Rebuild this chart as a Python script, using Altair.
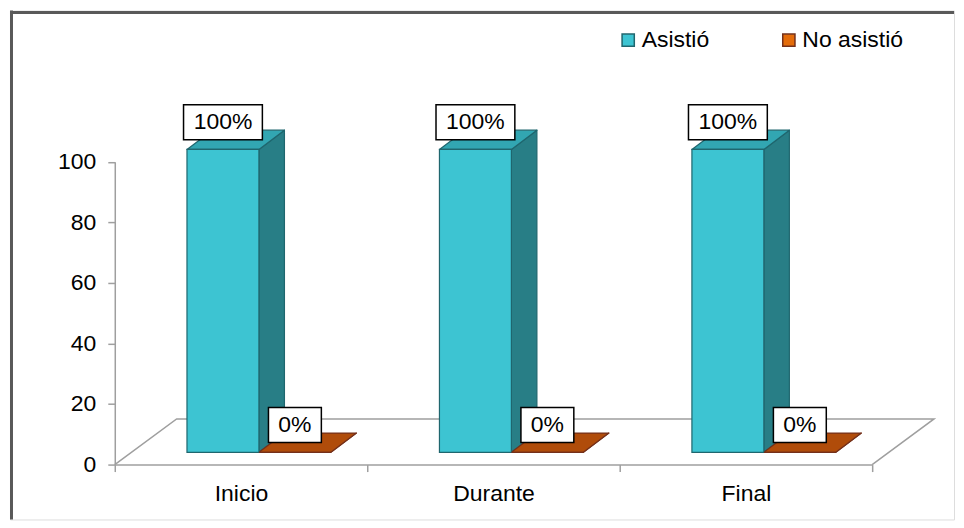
import json
import altair as alt
import pandas as pd

# ---- data ----
categories = ["Inicio", "Durante", "Final"]
series = ["Asistió", "No asistió"]
asistio = [100, 100, 100]
no_asistio = [0, 0, 0]
y_ticks = [0, 20, 40, 60, 80, 100]

# ---- styles ----
front_colors = ["#3DC4D2", "#E46C0A"]
edge_colors = ["#1F666E", "#74301A"]
side_colors = ["#287E86", "#8E3C08"]
top_colors = ["#32A6B2", "#B04C0A"]
FONT = "Liberation Sans"
GRAY = "#9F9F9F"

values = [asistio, no_asistio]
rows = []
for i, c in enumerate(categories):
    for j, s in enumerate(series):
        rows.append({"cat": c, "ci": i, "serie": s, "si": j, "v": values[j][i]})
df = pd.DataFrame(rows)

N = len(categories)
# 3D geometry (in data units)
START, BW = 0.22, 0.285      # bar start in category, bar width
FX, FY = 0.066, 4.05         # shift of bar front from floor front
BX, BY = 0.101, 6.36         # bar depth
DX, DY = 0.245, 15.06        # floor depth
LY, HH = 9.0, 5.77           # label offset, label half height

W, H = 946, 510
xs = alt.Scale(domain=[0, N], range=[105, 864], nice=False, zero=False)
ys = alt.Scale(domain=[0, 100], range=[455, 151.5], nice=False, zero=False)

xa = alt.Axis(
    values=[k / 2 for k in range(2 * N + 1)],
    labelExpr=f"datum.value % 1 ? {json.dumps(categories, ensure_ascii=False)}[floor(datum.value)] : ''",
    tickOpacity={"condition": {"test": "datum.value % 1 != 0", "value": 0}, "value": 1},
    offset=-(H - 455), domainColor=GRAY, domainWidth=1.5, tickColor=GRAY,
    tickWidth=1.5, tickSize=7, labelFontSize=23, labelFont=FONT, labelColor="black",
    labelPadding=11, grid=False, title=None, labelFlush=False, labelOverlap=False,
)
ya = alt.Axis(
    values=y_ticks, offset=-105, domainColor=GRAY, domainWidth=1.5, tickColor=GRAY,
    tickWidth=1.5, tickSize=7, labelFontSize=23, labelFont=FONT, labelColor="black",
    labelPadding=12, grid=False, title=None,
)

base = (
    alt.Chart(df)
    .transform_calculate(xl=f"datum.ci + {START} + datum.si * {BW} + {FX}")
    .transform_calculate(xr=f"datum.xl + {BW}")
    .transform_calculate(yb=f"{FY}")
    .transform_calculate(yt=f"{FY} + datum.v")
    .transform_calculate(key="datum.cat + '|' + datum.serie")
    .transform_calculate(sidecol=f"{json.dumps(side_colors)}[datum.si]")
    .transform_calculate(topcol=f"{json.dumps(top_colors)}[datum.si]")
    .transform_calculate(edgecol=f"{json.dumps(edge_colors)}[datum.si]")
)

# floor
floor_df = pd.DataFrame({
    "o": [0, 1, 2, 3],
    "fx": [0, DX, N + DX, N],
    "fy": [0, DY, DY, 0],
})
floor = alt.Chart(floor_df).mark_line(color=GRAY, strokeWidth=1.5).encode(
    x=alt.X("fx:Q", scale=xs, axis=xa, title=None),
    y=alt.Y("fy:Q", scale=ys, axis=ya, title=None),
    order="o:Q",
)

flat = base.transform_calculate(k="[0, 1]").transform_flatten(["k"])

side = (
    flat.transform_calculate(sx=f"datum.xr + datum.k * {BX}")
    .transform_calculate(sy=f"datum.yt + datum.k * {BY}")
    .transform_calculate(sy2=f"datum.yb + datum.k * {BY}")
    .mark_area(orient="vertical", strokeWidth=1.2, strokeJoin="round")
    .encode(
        x=alt.X("sx:Q", scale=xs, axis=xa, title=None),
        y=alt.Y("sy:Q", scale=ys, axis=ya, title=None),
        y2="sy2:Q",
        fill=alt.Fill("sidecol:N", scale=None),
        stroke=alt.Stroke("edgecol:N", scale=None),
        detail="key:N",
    )
)

top = (
    flat.transform_calculate(ty=f"datum.yt + datum.k * {BY}")
    .transform_calculate(tx=f"datum.xl + datum.k * {BX}")
    .transform_calculate(tx2=f"datum.xr + datum.k * {BX}")
    .mark_area(orient="horizontal", strokeWidth=1.2, strokeJoin="round")
    .encode(
        y=alt.Y("ty:Q", scale=ys, axis=ya, title=None),
        x=alt.X("tx:Q", scale=xs, axis=xa, title=None),
        x2="tx2:Q",
        fill=alt.Fill("topcol:N", scale=None),
        stroke=alt.Stroke("edgecol:N", scale=None),
        detail="key:N",
    )
)

leg = alt.Legend(
    orient="none", legendX=608, legendY=18, direction="horizontal", title=None,
    symbolType="square", symbolSize=150, symbolStrokeWidth=1.5,
    labelFontSize=23, labelFont=FONT, labelColor="black", columnPadding=68,
    labelOffset=2, padding=0,
)

front = base.mark_rect(strokeWidth=1.2).encode(
    x=alt.X("xl:Q", scale=xs, axis=xa, title=None),
    x2="xr:Q",
    y=alt.Y("yb:Q", scale=ys, axis=ya, title=None),
    y2="yt:Q",
    fill=alt.Fill("serie:N", scale=alt.Scale(domain=series, range=front_colors), legend=leg),
    stroke=alt.Stroke("serie:N", scale=alt.Scale(domain=series, range=edge_colors), legend=leg),
)

lab = (
    base.transform_calculate(label="format(datum.v, 'd') + '%'")
    .transform_calculate(xc="(datum.xl + datum.xr) / 2")
    .transform_calculate(hw="(13 * length(datum.label) + 27) / 2 / 253")
    .transform_calculate(bx1="datum.xc - datum.hw")
    .transform_calculate(bx2="datum.xc + datum.hw")
    .transform_calculate(ly=f"datum.yt + {LY}")
    .transform_calculate(by1=f"datum.ly - {HH}")
    .transform_calculate(by2=f"datum.ly + {HH}")
)

boxes = lab.mark_rect(fill="white", stroke="black", strokeWidth=1.5).encode(
    x=alt.X("bx1:Q", scale=xs, axis=xa, title=None),
    x2="bx2:Q",
    y=alt.Y("by1:Q", scale=ys, axis=ya, title=None),
    y2="by2:Q",
)

texts = lab.mark_text(fontSize=23, font=FONT, color="black", align="center", baseline="middle").encode(
    x=alt.X("xc:Q", scale=xs, axis=xa, title=None),
    y=alt.Y("ly:Q", scale=ys, axis=ya, title=None),
    text="label:N",
)

one = pd.DataFrame({"a": [0]})
border_top = alt.Chart(one).mark_rule(color="#595959", strokeWidth=3).encode(
    x=alt.value(0), x2=alt.value(W), y=alt.value(2)
)
border_left = alt.Chart(one).mark_rule(color="#595959", strokeWidth=3).encode(
    x=alt.value(1.5), y=alt.value(0), y2=alt.value(H)
)

chart = (
    alt.layer(floor, side, top, front, boxes, texts, border_top, border_left)
    .properties(width=W, height=H, padding=0, background="white")
    .configure_view(stroke="transparent", strokeWidth=0)
    .configure(font=FONT)
)

chart.save("out.html", embed_options={"renderer": "svg", "actions": False})
